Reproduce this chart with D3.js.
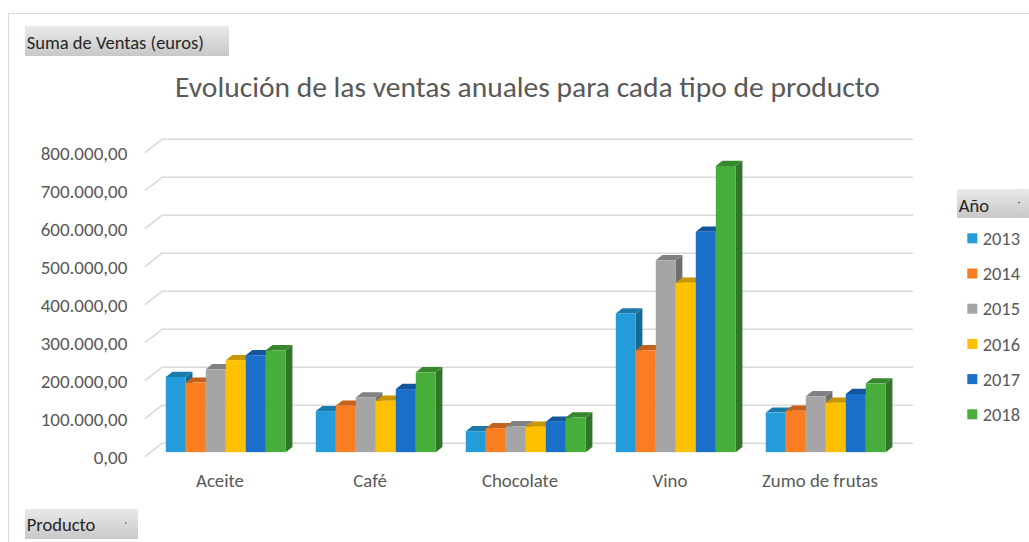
<!DOCTYPE html>
<html>
<head>
<meta charset="utf-8">
<script src="https://cdn.jsdelivr.net/npm/d3@7/dist/d3.min.js"></script>
<style>
  html, body { margin: 0; padding: 0; background: #ffffff; }
  svg { display: block; }
  text { font-family: Calibri, Carlito, Lato, "Open Sans", sans-serif; }
</style>
</head>
<body>
<svg id="chart" width="1029" height="542"></svg>
<script>
// Sales per product and year (euros)
const categories = ["Aceite", "Café", "Chocolate", "Vino", "Zumo de frutas"];
const years = ["2013", "2014", "2015", "2016", "2017", "2018"];
const sales2013 = [198000, 108000, 55000, 365000, 104000];
const sales2014 = [183000, 122000, 63000, 268000, 109000];
const sales2015 = [218000, 144000, 68000, 505000, 147000];
const sales2016 = [242000, 135000, 67000, 446000, 130000];
const sales2017 = [255000, 166000, 80000, 580000, 153000];
const sales2018 = [268000, 210000, 91000, 753000, 181000];
const seriesValues = [sales2013, sales2014, sales2015, sales2016, sales2017, sales2018];
const yTicks = [0, 100000, 200000, 300000, 400000, 500000, 600000, 700000, 800000];
const colors = ["#239cd9", "#fb7d21", "#a5a5a5", "#ffc000", "#1a6fc9", "#47ad3b"];

const titleText = "Evolución de las ventas anuales para cada tipo de producto";
const valueFieldLabel = "Suma de Ventas (euros)";
const seriesFieldLabel = "Año";
const categoryFieldLabel = "Producto";

const svg = d3.select("#chart");
const defs = svg.append("defs");
const grad = defs.append("linearGradient").attr("id", "btnGrad")
  .attr("x1", 0).attr("y1", 0).attr("x2", 0).attr("y2", 1);
grad.append("stop").attr("offset", "0%").attr("stop-color", "#e9e9e9");
grad.append("stop").attr("offset", "100%").attr("stop-color", "#c8c8c8");

// Chart frame (top and left edges)
svg.append("path")
  .attr("d", "M8.5,542 L8.5,13.5 L1029,13.5")
  .attr("fill", "none").attr("stroke", "#d9d9d9").attr("stroke-width", 1);

// 3D projection: depth recedes up and to the right
const DX = 17, DY = 13.4;
const F0 = 0.34, F1 = 0.73; // front / back depth of the columns

const x = d3.scaleBand().domain(categories).range([145, 895])
  .paddingInner(0.2).paddingOuter(0.1);
const xs = d3.scaleBand().domain(years).range([0, x.bandwidth()]);
const y = d3.scaleLinear().domain([0, 800000]).range([456.7, 152.7]);

// Fit a text group to a measured width by scaling its font size
function fitSize(sample, base, target) {
  const t = svg.append("text").attr("font-size", base).text(sample);
  const w = t.node().getComputedTextLength();
  t.remove();
  return base * target / w;
}

// Gridlines: side wall diagonal + back wall horizontal
const grid = svg.append("g");
yTicks.forEach(t => {
  const yy = y(t);
  grid.append("path")
    .attr("d", `M145,${yy} L${145 + DX},${yy - DY} L913,${yy - DY}`)
    .attr("fill", "none").attr("stroke", "#d9d9d9").attr("stroke-width", 1.5);
});

// Value axis labels
const fmt = v => {
  const s = d3.format(",.2f")(v);
  return s.replace(/,/g, "#").replace(".", ",").replace(/#/g, ".");
};
const tickSize = fitSize(fmt(800000), 20, 86.7);
svg.append("g").selectAll("text").data(yTicks).join("text")
  .attr("x", 127.3).attr("y", d => y(d))
  .attr("dy", "0.36em")
  .attr("text-anchor", "end")
  .attr("font-size", tickSize)
  .attr("fill", "#595959")
  .text(d => fmt(d));

// Columns
const bars = svg.append("g");
categories.forEach((cat, ci) => {
  years.forEach((yr, si) => {
    const v = seriesValues[si][ci];
    const x0 = x(cat) + xs(yr) + F0 * DX;
    const w = xs.bandwidth();
    const yb = y(0) - F0 * DY;
    const yt = y(v) - F0 * DY;
    const ddx = (F1 - F0) * DX, ddy = (F1 - F0) * DY;
    const base = d3.color(colors[si]);
    const g = bars.append("g");
    // right side
    g.append("path")
      .attr("d", `M${x0 + w},${yb} L${x0 + w + ddx},${yb - ddy} L${x0 + w + ddx},${yt - ddy} L${x0 + w},${yt} Z`)
      .attr("fill", base.darker(1.1).formatHex());
    // top
    g.append("path")
      .attr("d", `M${x0},${yt} L${x0 + ddx},${yt - ddy} L${x0 + w + ddx},${yt - ddy} L${x0 + w},${yt} Z`)
      .attr("fill", base.darker(0.7).formatHex());
    // front
    g.append("rect")
      .attr("x", x0).attr("y", yt)
      .attr("width", w).attr("height", yb - yt)
      .attr("fill", base.formatHex());
  });
});

// Category labels
const catSize = fitSize("Zumo de frutas", 20, 116);
svg.append("g").selectAll("text").data(categories).join("text")
  .attr("x", d => x(d) + x.bandwidth() / 2)
  .attr("y", 486.5)
  .attr("text-anchor", "middle")
  .attr("font-size", catSize)
  .attr("fill", "#595959")
  .text(d => d);

// Title
const titleSize = fitSize(titleText, 24, 705);
svg.append("text")
  .attr("x", 527.5).attr("y", 97.3)
  .attr("text-anchor", "middle")
  .attr("font-size", titleSize)
  .attr("fill", "#595959")
  .text(titleText);

// Field buttons
const btnSize = fitSize(valueFieldLabel, 20, 177.3);
function fieldButton(bx, by, bw, bh, label, baseline, dotX) {
  const g = svg.append("g");
  g.append("rect").attr("x", bx).attr("y", by).attr("width", bw).attr("height", bh)
    .attr("fill", "url(#btnGrad)");
  g.append("text").attr("x", bx + 1.7).attr("y", baseline)
    .attr("font-size", btnSize).attr("fill", "#262626").text(label);
  if (dotX != null) {
    g.append("circle").attr("cx", dotX).attr("cy", by + bh / 2 - 1).attr("r", 0.8)
      .attr("fill", "#404040");
  }
}
fieldButton(25, 26, 204, 30, valueFieldLabel, 49.3, null);
fieldButton(25, 509, 113, 30, categoryFieldLabel, 530.7, 125.7);
fieldButton(957, 189, 72, 29, seriesFieldLabel, 211.5, 1019);

// Legend
const legendSize = fitSize("2013", 20, 37.3);
const legendY = d3.scalePoint().domain(years).range([238.3, 414.3]);
const leg = svg.append("g").selectAll("g").data(years).join("g");
leg.append("rect")
  .attr("x", 967.3).attr("y", d => legendY(d) - 5)
  .attr("width", 10).attr("height", 10)
  .attr("fill", (d, i) => colors[i]);
leg.append("text")
  .attr("x", 982.7).attr("y", d => legendY(d))
  .attr("dy", "0.36em")
  .attr("font-size", legendSize)
  .attr("fill", "#595959")
  .text(d => d);
</script>
</body>
</html>
